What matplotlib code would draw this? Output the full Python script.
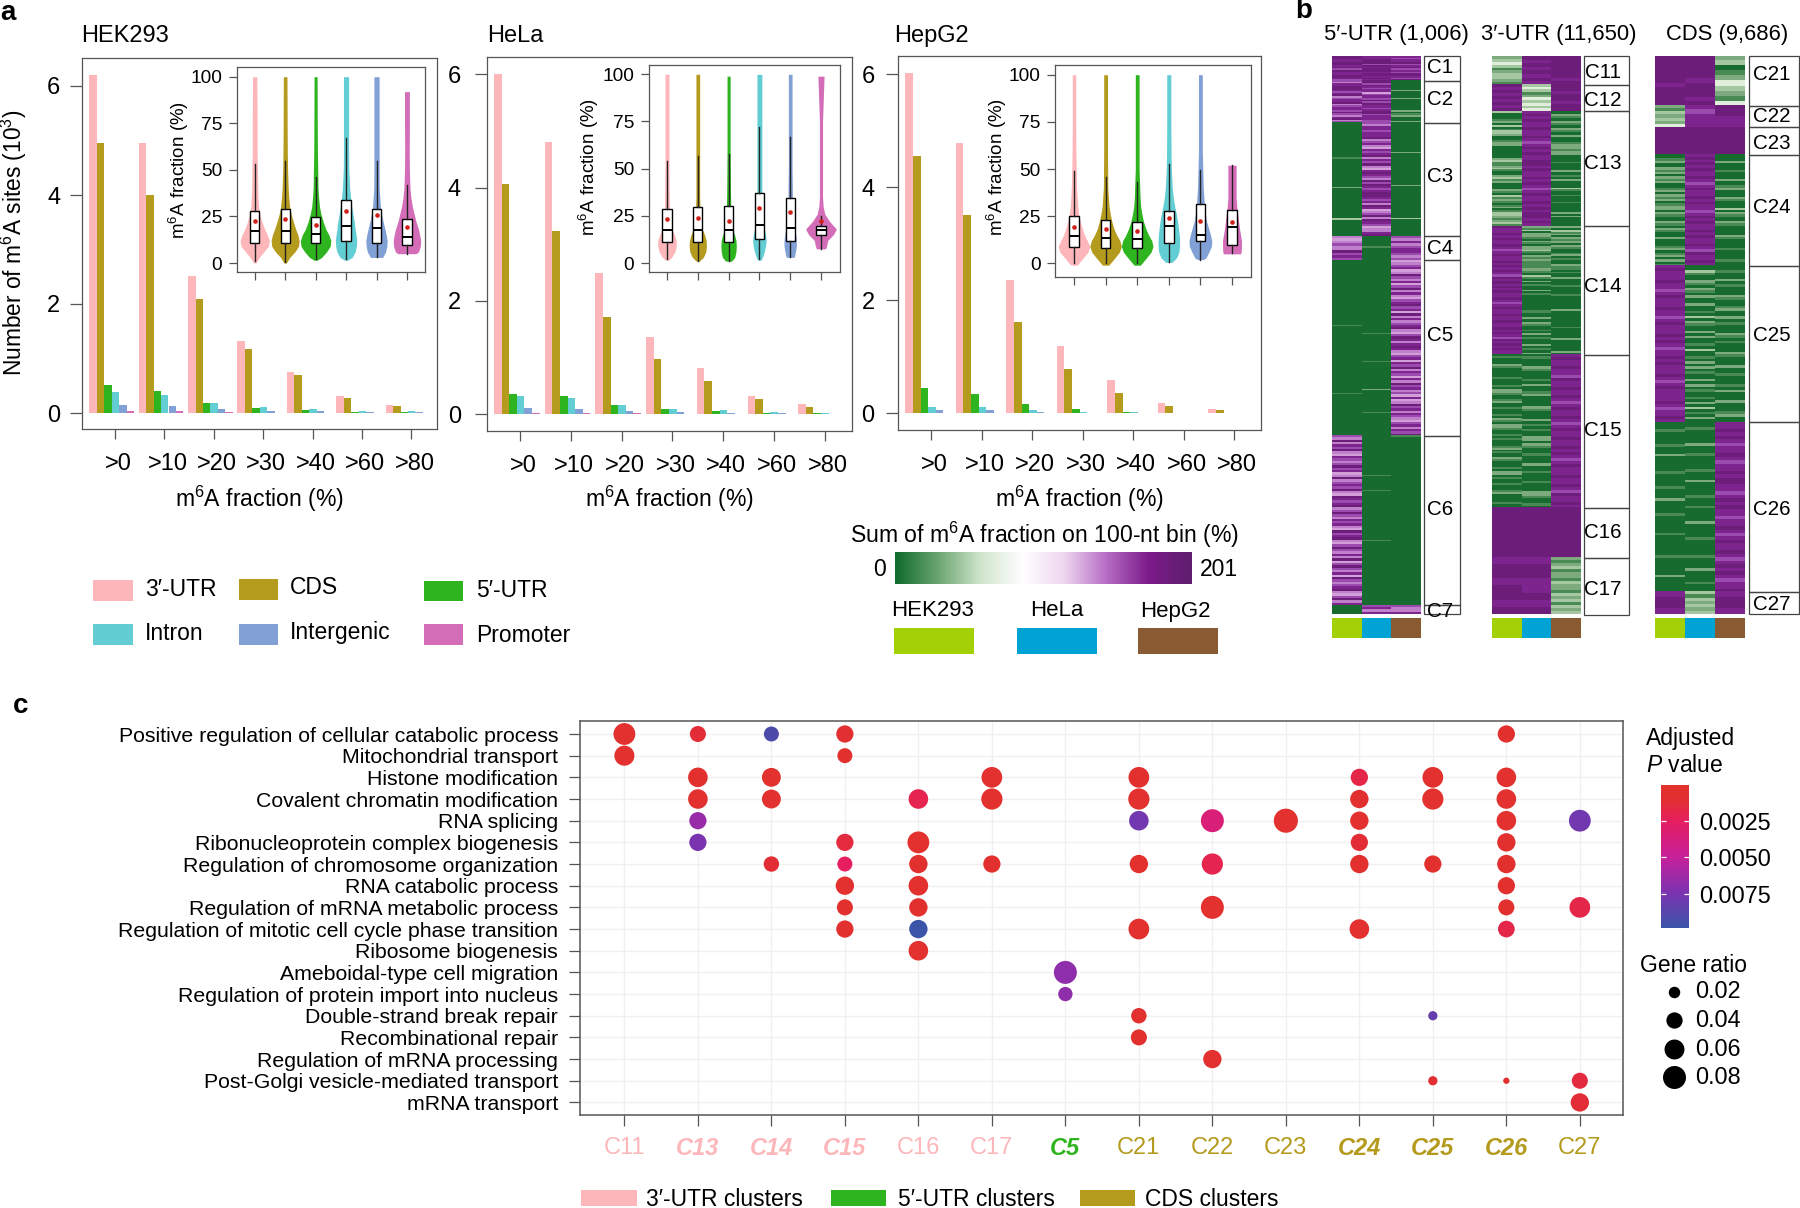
import numpy as np
import matplotlib
matplotlib.use('Agg')
from matplotlib import pyplot as plt
from matplotlib.cm import ScalarMappable
from matplotlib.colors import LinearSegmentedColormap, Normalize
from matplotlib.patches import Rectangle
from matplotlib.transforms import ScaledTranslation

plt.rcParams['font.family'] = ['Liberation Sans', 'DejaVu Sans']
plt.rcParams['mathtext.fontset'] = 'custom'
plt.rcParams['mathtext.rm'] = 'Liberation Sans'
plt.rcParams['mathtext.it'] = 'Liberation Sans:italic'
plt.rcParams['mathtext.default'] = 'regular'

# ---- panel a data ----
thresholds = ['>0', '>10', '>20', '>30', '>40', '>60', '>80']
regions = ["3\u2032-UTR", 'CDS', "5\u2032-UTR", 'Intron', 'Intergenic', 'Promoter']
region_colors = ['#fdb7bb', '#b49a1d', '#2eb41f', '#62cdd3', '#81a0d6', '#d46db8']

hek_counts = [[6.20, 4.95, 0.51, 0.38, 0.15, 0.03],
              [4.95, 4.00, 0.40, 0.33, 0.12, 0.03],
              [2.52, 2.09, 0.18, 0.19, 0.07, 0.01],
              [1.33, 1.17, 0.09, 0.11, 0.04, 0.005],
              [0.76, 0.69, 0.05, 0.07, 0.03, 0.005],
              [0.31, 0.27, 0.02, 0.04, 0.01, 0.003],
              [0.15, 0.13, 0.01, 0.03, 0.01, 0.002]]
hela_counts = [[6.00, 4.06, 0.36, 0.32, 0.10, 0.02],
               [4.80, 3.23, 0.31, 0.28, 0.08, 0.02],
               [2.49, 1.72, 0.16, 0.16, 0.05, 0.01],
               [1.36, 0.97, 0.09, 0.09, 0.04, 0.005],
               [0.81, 0.58, 0.05, 0.07, 0.02, 0.005],
               [0.32, 0.26, 0.01, 0.03, 0.01, 0.002],
               [0.17, 0.13, 0.01, 0.02, 0.005, 0.002]]
hepg2_counts = [[6.03, 4.56, 0.45, 0.12, 0.05, 0.01],
                [4.79, 3.51, 0.35, 0.11, 0.05, 0.01],
                [2.36, 1.62, 0.16, 0.06, 0.02, 0.005],
                [1.19, 0.78, 0.07, 0.03, 0.01, 0.003],
                [0.59, 0.36, 0.03, 0.02, 0.005, 0.002],
                [0.18, 0.13, 0.005, 0.005, 0.002, 0.001],
                [0.08, 0.05, 0.003, 0.003, 0.001, 0.001]]

# violin half widths on shared levels, one row per region
violin_levels = [0, 3, 6, 9, 12, 15, 18, 22, 26, 30, 35, 40, 50, 60, 75, 100]
hek_widths = [[.04, .15, .30, .45, .48, .42, .33, .24, .17, .13, .11, .10, .09, .08, .08, .07],
              [.04, .15, .32, .44, .46, .42, .35, .27, .20, .15, .12, .10, .08, .07, .065, .06],
              [.05, .20, .36, .48, .50, .44, .34, .25, .18, .13, .10, .08, .07, .06, .055, .05],
              [.05, .20, .30, .34, .35, .33, .30, .27, .23, .19, .15, .12, .09, .085, .085, .085],
              [.10, .20, .30, .34, .35, .32, .28, .22, .17, .13, .11, .09, .085, .085, .085, .085],
              [.30, .30, .38, .44, .45, .42, .38, .30, .24, .18, .13, .10, .08, .075, .08, .08]]
hela_widths = [[.05, .15, .26, .30, .30, .24, .15, .11, .09, .08, .075, .07, .065, .065, .065, .065],
               [.05, .18, .26, .28, .27, .22, .14, .10, .08, .07, .06, .06, .06, .06, .06, .06],
               [.10, .20, .24, .25, .24, .19, .13, .10, .08, .07, .065, .06, .055, .05, .05, .05],
               [.05, .10, .16, .20, .22, .20, .16, .13, .11, .095, .085, .08, .08, .08, .08, .08],
               [.10, .13, .17, .20, .20, .18, .14, .11, .09, .08, .07, .07, .06, .06, .06, .06],
               [.15, .15, .15, .18, .22, .40, .50, .28, .12, .07, .05, .05, .05, .05, .05, .10]]
hepg2_widths = [[.10, .30, .45, .50, .42, .33, .27, .20, .15, .12, .10, .085, .07, .06, .055, .055],
                [.10, .30, .44, .50, .45, .35, .27, .20, .15, .11, .09, .07, .065, .06, .06, .06],
                [.10, .30, .44, .50, .46, .36, .28, .20, .15, .11, .09, .08, .06, .06, .06, .06],
                [.10, .25, .32, .34, .34, .33, .31, .28, .24, .19, .14, .11, .08, .07, .065, .065],
                [.10, .18, .27, .35, .36, .32, .27, .20, .16, .13, .11, .09, .075, .06, .06, .06],
                [.27, .27, .29, .30, .30, .27, .24, .21, .18, .15, .13, .13, .13, .13, .13, .13]]
hek_limits = [(0, 100), (0, 100), (1.5, 100), (1.5, 100), (3, 100), (5, 92)]
hela_limits = [(1.5, 100), (1, 100), (1, 99), (1.5, 100), (3, 100), (7.5, 99)]
hepg2_limits = [(-1, 100), (-1, 100), (-1, 100), (0.5, 100), (2, 100), (5, 52)]

# whisker low, q1, median, q3, whisker high, mean
hek_boxes = [[1, 10.7, 17, 27.7, 53, 22.4], [0.5, 11, 17.3, 28.8, 55, 23.5],
             [2, 10.5, 15.5, 24.7, 46, 20.5], [2, 11.8, 20, 34, 67, 28],
             [3, 10.5, 19, 28.8, 55, 26], [5, 9.5, 14, 23.5, 42, 19.5]]
hela_boxes = [[2, 11, 17.3, 28.7, 54, 23.2], [1, 11, 17.3, 29.5, 56.5, 23.7],
              [1, 11.3, 17.3, 30.2, 58, 22.5], [2, 12.7, 20, 37, 72, 29.3],
              [3, 11.8, 18.7, 34.7, 67, 27], [7.5, 14.7, 17.3, 19.7, 25, 22.5]]
hepg2_boxes = [[0, 8.7, 14.5, 25, 49, 19.3], [0, 8.3, 13.5, 23, 45.5, 18],
               [0, 8, 12.7, 22, 43, 17], [0.5, 10.5, 20, 27.5, 52.5, 24],
               [2, 11.8, 15.2, 31.5, 49.5, 22.2], [5.5, 9.5, 19.3, 28, 52, 21.8]]

# ---- panel b data: stripes estimated by eye, 0 = dark green ... 9 = dark purple ----
heat_levels = ['#176b2e', '#4a8a54', '#7fab80', '#a5c8a3', '#e2efdc',
               '#d3a0da', '#bf7fca', '#9c4cae', '#7e2590', '#6d1e7b']
scale_levels = ['#0f6b2b', '#6aa56e', '#cfe4cc', '#ffffff', '#eed6f0',
                '#b56cc4', '#7b1a8a', '#5f1f6e']
cell_lines = ['HEK293', 'HeLa', 'HepG2']
cell_colors = ['#a4d007', '#00a3d3', '#8a5a32']

utr5_sizes = [45, 76, 205, 42, 317, 305, 16]
utr5_names = ['C1', 'C2', 'C3', 'C4', 'C5', 'C6', 'C7']
utr5_label_y = [67.3, 99.8, 176.8, 248.3, 335.5, 509.3, 611.6]
utr5_hek = ['9988998979889987', '768899878967889678879768967',
            '000000000000000000000000001000000000000000000000200000000000000000000003000000000000',
            '6567669787',
            '000000000000000000000000000000000000000000000000000100000000000000000000000000000000000000000000000000001000000000000000000000000000000000',
            '7696879658767978569678796598789679768786597896579768695797685976789657968',
            '00000']
utr5_hela = ['8899979899899898', '9979878857887979887899788877',
             '7688788967865878968796589876979878998786985679698756689',
             '0000100000',
             '000000000000000000000000000000000000000000000000000000000100000000000000000000010000000000000000000002000000000000000001000000000000000000',
             '0000000000000000000000000000000100000000000100000000000000000000000000000000000000100000000000000000000000000000000000000000000000000',
             '7868']
utr5_hepg2 = ['8788978978799879', '000000200002000000020120002',
              '000000000000000000200000000000000000002000000000000000000030000000000',
              '7686788767',
              '5678569768579686578978596867896579868986578587968758697867585697868765786879',
              '1000000000000000000000000000000000000000000000000000000000000000000000000000000',
              '7668']

utr3_sizes = [604, 561, 2395, 2676, 3193, 1052, 1169]
utr3_names = ['C11', 'C12', 'C13', 'C14', 'C15', 'C16', 'C17']
utr3_label_y = [72.4, 101, 163.3, 287, 430.6, 532.4, 589.3]
utr3_hek = ['2343123321', '989898989',
            '30001203013320012200000023112310023120002103121012013321231',
            '98898988987898898989879898989889878988988988989879898988',
            '0100021000001000102210012001000102102210010100012010021000102201001000120000100',
            '99999999', '89989989']
utr3_hela = ['98989898', '3431243434',
             '898988988987898988998988989878988989899898',
             '21302210210223102121111221031020100201000000001100200210010201000201002',
             '01000210001020012000021000201010022021001000200100010002210010',
             '9999999', '89988989']
utr3_hepg2 = ['99999989', '99899899',
              '002100210021002000122212200001000020010200003100100010000020200000',
              '20312021202100120100211010020001000010000000200000000100000200000020',
              '8988988798898898789889878988988989878988898898798898',
              '9999999', '2123122132213231323']

cds_sizes = [877, 365, 482, 1929, 2711, 2937, 385]
cds_names = ['C21', 'C22', 'C23', 'C24', 'C25', 'C26', 'C27']
cds_label_y = [74.9, 117, 143.1, 207.9, 335.5, 509.3, 604.8]
cds_hek = ['99999989999', '2132324', '99999',
           '00120021202120012021201220210021021002000120120201',
           '8988898878988898878988898987889898889878988889878898',
           '000100000100020000001000001000020000010000000100000000100000002000000',
           '8998']
cds_hela = ['99999899989', '87888', '9999',
            '8989898898789889898878989889898898798898',
            '00310021021020020010302100202001030010202010020201001020301020',
            '00100000200010000010002000001000100000200000100000010000200001000',
            '3132323']
cds_hepg2 = ['2301243214', '9988', '9999',
             '00020001000200120002100030210021000021000010000100',
             '0010020100021001200201000210100021000200100010200020001200',
             '8898987889878898998878989887889878988987898987889',
             '8998']

heat_titles = ["5\u2032-UTR (1,006)", "3\u2032-UTR (11,650)", 'CDS (9,686)']

# ---- panel c data ----
go_terms = ['Positive regulation of cellular catabolic process', 'Mitochondrial transport',
            'Histone modification', 'Covalent chromatin modification', 'RNA splicing',
            'Ribonucleoprotein complex biogenesis', 'Regulation of chromosome organization',
            'RNA catabolic process', 'Regulation of mRNA metabolic process',
            'Regulation of mitotic cell cycle phase transition', 'Ribosome biogenesis',
            'Ameboidal-type cell migration', 'Regulation of protein import into nucleus',
            'Double-strand break repair', 'Recombinational repair',
            'Regulation of mRNA processing', 'Post-Golgi vesicle-mediated transport',
            'mRNA transport']
go_clusters = ['C11', 'C13', 'C14', 'C15', 'C16', 'C17', 'C5', 'C21', 'C22', 'C23',
               'C24', 'C25', 'C26', 'C27']
go_cluster_colors = ['#fdb7bb'] * 6 + ['#2eb41f'] + ['#b49a1d'] * 7
go_cluster_bold = ['C13', 'C14', 'C15', 'C5', 'C24', 'C25', 'C26']

dot_term = [0, 0, 0, 0, 0,
            1, 1,
            2, 2, 2, 2, 2, 2, 2,
            3, 3, 3, 3, 3, 3, 3, 3,
            4, 4, 4, 4, 4, 4, 4,
            5, 5, 5, 5, 5,
            6, 6, 6, 6, 6, 6, 6, 6, 6,
            7, 7, 7,
            8, 8, 8, 8, 8,
            9, 9, 9, 9, 9,
            10, 11, 12,
            13, 13, 14, 15,
            16, 16, 16, 17]
dot_cluster = ['C11', 'C13', 'C14', 'C15', 'C26',
               'C11', 'C15',
               'C13', 'C14', 'C17', 'C21', 'C24', 'C25', 'C26',
               'C13', 'C14', 'C16', 'C17', 'C21', 'C24', 'C25', 'C26',
               'C13', 'C21', 'C22', 'C23', 'C24', 'C26', 'C27',
               'C13', 'C15', 'C16', 'C24', 'C26',
               'C14', 'C15', 'C16', 'C17', 'C21', 'C22', 'C24', 'C25', 'C26',
               'C15', 'C16', 'C26',
               'C15', 'C16', 'C22', 'C26', 'C27',
               'C15', 'C16', 'C21', 'C24', 'C26',
               'C16', 'C5', 'C5',
               'C21', 'C25', 'C21', 'C22',
               'C25', 'C26', 'C27', 'C27']
dot_ratio = [.072, .039, .034, .045, .045,
             .061, .034,
             .058, .054, .065, .065, .045, .065, .058,
             .058, .054, .058, .068, .068, .051, .068, .058,
             .045, .058, .080, .088, .051, .058, .072,
             .045, .045, .072, .045, .051,
             .036, .034, .051, .045, .051, .068, .051, .045, .051,
             .051, .058, .045,
             .039, .051, .080, .039, .065,
             .045, .051, .065, .058, .042,
             .058, .080, .031,
             .036, .013, .039, .051,
             .013, .006, .039, .051]
dot_padj = [.0005, .0012, .0092, .0008, .0006,
            .0004, .0006,
            .0006, .0005, .0005, .0006, .0018, .0005, .0005,
            .0005, .0005, .0020, .0005, .0005, .0007, .0005, .0005,
            .0065, .0078, .0035, .0004, .0005, .0005, .0078,
            .0075, .0015, .0005, .0012, .0006,
            .0012, .0025, .0006, .0006, .0006, .0020, .0006, .0006, .0006,
            .0005, .0005, .0006,
            .0006, .0006, .0004, .0006, .0018,
            .0006, .0098, .0005, .0005, .0018,
            .0005, .0068, .0068,
            .0006, .0082, .0006, .0004,
            .0008, .0006, .0015, .0012]
padj_ticks = [.0025, .0050, .0075]
padj_stops = [(0, '#e1332a'), (.12, '#e32d35'), (.25, '#e61e60'), (.5, '#c8209a'),
              (.75, '#7c33b0'), (1, '#3a55a8')]
ratio_ticks = [.02, .04, .06, .08]

# ---- layout in pixels of the 1800x1208 picture ----
W, H = 1800, 1208
frame_color = '#555555'
fig = plt.figure(figsize=(W / 100, H / 100), dpi=100)


def pxAxes(left, top, right, bottom):
    return fig.add_axes([left / W, 1 - bottom / H, (right - left) / W, (bottom - top) / H])


def drawInset(frame, ticks, x0, step, widths, limits, boxes):
    l, t, r, b = frame
    ax = pxAxes(l, t, r, b)
    y100, y0 = ticks
    unit = (y0 - y100) / 100
    ax.set_xlim((l - x0) / step + 1, (r - x0) / step + 1)
    ax.set_ylim((y0 - b) / unit, (y0 - t) / unit)
    for i, color in enumerate(region_colors):
        lo, hi = limits[i]
        ys = np.clip(violin_levels, lo, hi).astype(float)
        ys[0] = lo
        half = np.array(widths[i])
        ax.fill_betweenx(ys, i + 1 - half, i + 1 + half, color=color, lw=0, zorder=1)
    stats = [dict(whislo=w[0], q1=w[1], med=w[2], q3=w[3], whishi=w[4], fliers=[]) for w in boxes]
    ax.bxp(stats, positions=range(1, 7), widths=.3, showfliers=False, showcaps=False,
           patch_artist=True, manage_ticks=False, zorder=2,
           boxprops=dict(facecolor='white', edgecolor='black', lw=1),
           medianprops=dict(color='black', lw=1.4), whiskerprops=dict(color='#222222', lw=1))
    ax.scatter(range(1, 7), [w[5] for w in boxes], s=11, color='#d0201a', lw=0, zorder=3)
    ax.set_xticks(range(1, 7))
    ax.set_xticklabels([])
    ax.set_yticks([0, 25, 50, 75, 100])
    ax.tick_params(length=5.5, width=.9, color=frame_color, labelsize=13.8, pad=5)
    for s in ax.spines.values():
        s.set_color(frame_color)
        s.set_linewidth(.9)
    return ax


def drawBars(frame, tick0, step, yticks, bar0, barw, counts, ypad):
    l, t, r, b = frame
    ax = pxAxes(l, t, r, b)
    y6, y0 = yticks
    unit = (y0 - y6) / 6
    ax.set_xlim((l - tick0) / step, (r - tick0) / step)
    ax.set_ylim((y0 - b) / unit, (y0 - t) / unit)
    values = np.array(counts)
    for j, color in enumerate(region_colors):
        xs = np.arange(len(thresholds)) + (bar0 - tick0 + j * barw) / step
        ax.bar(xs, values[:, j], width=barw / step, align='edge', color=color, lw=0)
    ax.set_xticks(range(len(thresholds)))
    ax.set_xticklabels(thresholds, fontsize=17)
    ax.set_yticks([0, 2, 4, 6])
    ax.tick_params(axis='y', length=8.6, width=.9, color=frame_color, labelsize=17, pad=ypad)
    ax.tick_params(axis='x', length=7.2, width=.9, color=frame_color, pad=10)
    offset = ScaledTranslation(3 / 100, 0, fig.dpi_scale_trans)
    for lbl in ax.get_xticklabels():
        lbl.set_transform(lbl.get_transform() + offset)
    for s in ax.spines.values():
        s.set_color(frame_color)
        s.set_linewidth(.9)
    return ax


# panel a
drawBars((82, 58, 437, 429), 115, 49.4, (86, 413), 89.3, 7.45, hek_counts, 7)
drawBars((486.7, 57.3, 852, 431), 520.3, 50.7, (74.3, 414), 494, 7.6, hela_counts, 10)
drawBars((898.3, 55.7, 1261.3, 430), 931.3, 50.5, (74.3, 413.3), 905.3, 7.6, hepg2_counts, 8.5)
drawInset((236.7, 67.3, 425.3, 272.3), (76.7, 263), 254.7, 30.45, hek_widths, hek_limits, hek_boxes)
drawInset((648.7, 65, 839.7, 272.3), (74.3, 263), 667, 30.8, hela_widths, hela_limits, hela_boxes)
drawInset((1055.3, 65, 1251, 277), (74.7, 263.3), 1074, 31.6, hepg2_widths, hepg2_limits, hepg2_boxes)

# panel b
heat_cmap = LinearSegmentedColormap.from_list('heat', heat_levels)
scale_cmap = LinearSegmentedColormap.from_list('scale', scale_levels)


def drawHeat(left, right, top, bottom, sizes, columns, boxleft, boxright, names, labely, textx):
    ax = pxAxes(left, top, right, bottom)
    total = sum(sizes)
    edges = np.concatenate([[0], np.cumsum(sizes)])
    for c, col in enumerate(columns):
        for k, stripes in enumerate(col):
            cells = np.array([[int(d)] for d in stripes])
            ax.imshow(cells, extent=[c, c + 1, edges[k + 1], edges[k]], aspect='auto',
                      cmap=heat_cmap, vmin=0, vmax=9, interpolation='nearest')
    ax.set_xlim(0, 3)
    ax.set_ylim(total, 0)
    ax.axis('off')
    rows_to_px = (bottom - top) / total
    for k, name in enumerate(names):
        y0 = top + edges[k] * rows_to_px
        y1 = top + edges[k + 1] * rows_to_px
        over.add_patch(Rectangle((boxleft, y0), boxright - boxleft, y1 - y0, fill=False,
                                 ec='#444444', lw=.9))
        over.text(textx, labely[k], name, fontsize=14.8, ha='center', va='center')
    xs = np.linspace(left, right, 4)
    for c, color in enumerate(cell_colors):
        over.add_patch(Rectangle((xs[c], 617.5), xs[c + 1] - xs[c], 20.5, color=color, lw=0))


over = fig.add_axes([0, 0, 1, 1], zorder=10)
over.patch.set_alpha(0)
over.set_xlim(0, W)
over.set_ylim(H, 0)
over.axis('off')

drawHeat(1331.7, 1421.3, 55.6, 613.7, utr5_sizes, [utr5_hek, utr5_hela, utr5_hepg2],
         1424, 1460, utr5_names, utr5_label_y, 1440)
drawHeat(1492.3, 1580.7, 55.6, 614.5, utr3_sizes, [utr3_hek, utr3_hela, utr3_hepg2],
         1584, 1629, utr3_names, utr3_label_y, 1603)
drawHeat(1655.3, 1745, 55.6, 613.7, cds_sizes, [cds_hek, cds_hela, cds_hepg2],
         1749, 1799, cds_names, cds_label_y, 1771.7)

for title, x in zip(heat_titles, [1396, 1559, 1727]):
    over.text(x, 34.5, title, fontsize=15.8, ha='center', va='center')

# panel c
axc = pxAxes(580.3, 721, 1623.2, 1115)
cluster_index = {name: i for i, name in enumerate(go_clusters)}
padj_cmap = LinearSegmentedColormap.from_list('padj', padj_stops)
padj_norm = Normalize(vmin=0, vmax=.0099)
size_per_ratio = 3426
axc.scatter([cluster_index[c] for c in dot_cluster], dot_term,
            s=np.array(dot_ratio) * size_per_ratio, c=dot_padj, cmap=padj_cmap, norm=padj_norm,
            lw=0, zorder=3)
axc.set_xlim(-.6, 13.59)
axc.set_ylim(17.58, -.6)
axc.set_xticks(range(len(go_clusters)))
axc.set_xticklabels(go_clusters, fontsize=17)
axc.set_yticks(range(len(go_terms)))
axc.set_yticklabels(go_terms, fontsize=15.3)
axc.grid(color='#f0f0f0', lw=1)
axc.set_axisbelow(True)
axc.tick_params(axis='both', length=8, width=.9, color=frame_color)
axc.tick_params(axis='x', pad=8)
axc.tick_params(axis='y', pad=8)
for lbl, color, name in zip(axc.get_xticklabels(), go_cluster_colors, go_clusters):
    lbl.set_color(color)
    if name in go_cluster_bold:
        lbl.set_fontstyle('italic')
        lbl.set_fontweight('bold')
for s in axc.spines.values():
    s.set_color(frame_color)
    s.set_linewidth(1.1)

# padj colour bar
cax = pxAxes(1660.6, 785, 1689.3, 928.3)
cb = fig.colorbar(ScalarMappable(norm=padj_norm, cmap=padj_cmap), cax=cax, ticks=padj_ticks,
                  format='%.4f')
cax.invert_yaxis()
cb.outline.set_visible(False)
cax.tick_params(direction='in', color='white', length=3.5, width=.9, left=True, labelsize=16.8,
                pad=7)

over.text(1646, 738.3, 'Adjusted', fontsize=16.5, va='center')
over.text(1646, 766, r'$\mathit{P}$ value', fontsize=16.5, va='center')
over.text(1640.5, 965, 'Gene ratio', fontsize=16.5, va='center')
for ratio, y in zip(ratio_ticks, [991.7, 1020.3, 1049, 1077]):
    over.scatter([1674], [y], s=ratio * size_per_ratio, color='black', lw=0)
    over.text(1695, y, '%.2f' % ratio, fontsize=16.8, va='center')

# free text and legends
for txt, x, y, size in [('a', 8, 13, 20), ('b', 1304, 11.5, 20), ('c', 20.6, 706, 20)]:
    over.text(x, y, txt, fontsize=size, fontweight='bold', ha='center', va='center')
for txt, x in [('HEK293', 81), ('HeLa', 487), ('HepG2', 894)]:
    over.text(x, 36, txt, fontsize=17, va='center')
for x in [259, 669, 1079]:
    over.text(x, 499, 'm$^{6}$A fraction (%)', fontsize=16.6, ha='center', va='center')
over.text(14, 243, 'Number of m$^{6}$A sites (10$^{3}$)', fontsize=16.4, rotation=90,
          ha='center', va='center')
for x, y in [(179, 170), (589, 167), (997, 167)]:
    over.text(x, y, 'm$^{6}$A fraction (%)', fontsize=13.5, rotation=90, ha='center', va='center')

region_swatch_x = [(93, 133), (239, 277.5), (423.5, 463), (93, 133), (239, 277.5), (423.5, 463)]
region_swatch_y = [580, 579, 580.7, 624, 624, 624]
region_text_x = [145, 290, 476, 145, 290, 476]
region_text_y = [590, 588, 590.7, 634, 633, 635]
for i, name in enumerate(regions):
    x0, x1 = region_swatch_x[i]
    over.add_patch(Rectangle((x0, region_swatch_y[i]), x1 - x0, 20.5, color=region_colors[i], lw=0))
    over.text(region_text_x[i], region_text_y[i], name, fontsize=16.5, va='center')

over.text(1044.5, 535, 'Sum of m$^{6}$A fraction on 100-nt bin (%)', fontsize=16.6,
          ha='center', va='center')
gax = pxAxes(895, 552, 1192, 584)
gax.imshow(np.linspace(0, 1, 256).reshape(1, -1), aspect='auto', cmap=scale_cmap)
gax.axis('off')
over.text(880, 570, '0', fontsize=16.5, ha='center', va='center')
over.text(1200, 570, '201', fontsize=16.5, va='center')
for name, color, cx, sx in zip(cell_lines, cell_colors, [933, 1057, 1175], [893.5, 1017, 1138]):
    over.text(cx, 611, name, fontsize=16, ha='center', va='center')
    over.add_patch(Rectangle((sx, 628), 80, 26, color=color, lw=0))

for txt, color, sx, tx in [("3\u2032-UTR clusters", '#fdb7bb', 581, 645.8),
                           ("5\u2032-UTR clusters", '#2eb41f', 830.6, 898),
                           ('CDS clusters', '#b49a1d', 1079.7, 1145)]:
    over.add_patch(Rectangle((sx, 1190), 55.5, 16, color=color, lw=0))
    over.text(tx, 1199, txt, fontsize=16.5, va='center')

fig.savefig('out.png', dpi=100)
